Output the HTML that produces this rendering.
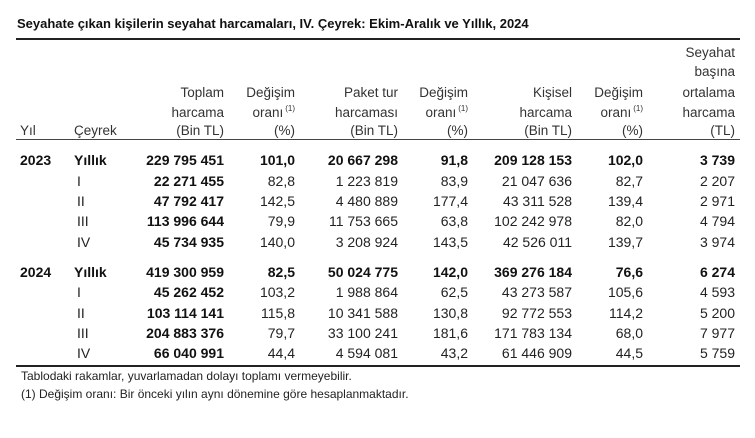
<!DOCTYPE html>
<html><head><meta charset="utf-8"><style>
body{margin:0;width:755px;height:438px;background:#fff;position:relative;overflow:hidden;font-family:"Liberation Sans",Arial,sans-serif;color:#222}
.t{position:absolute;white-space:nowrap;line-height:20px;font-size:14px}
.r{text-align:right}
.b{font-weight:bold;color:#111}
.h{font-size:13.5px;color:#333}
.rule{position:absolute;left:16px;width:724px;background:#222}
sup{font-size:8px;vertical-align:baseline;position:relative;top:-6px;margin-left:2px}
</style></head><body>
<div class="t b" style="left:17px;top:14px;font-size:13px">Seyahate çıkan kişilerin seyahat harcamaları, IV. Çeyrek: Ekim-Aralık ve Yıllık, 2024</div>
<div class="rule" style="top:38px;height:2px"></div>
<div class="rule" style="top:139px;height:1px;background:#444"></div>
<div class="rule" style="top:365px;height:2px"></div>
<div id="c"></div>
<div class="t" style="left:21px;top:366px;font-size:12px">Tablodaki rakamlar, yuvarlamadan dolayı toplamı vermeyebilir.</div>
<div class="t" style="left:21px;top:384px;font-size:12px">(1) Değişim oranı: Bir önceki yılın aynı dönemine göre hesaplanmaktadır.</div>
<script>
var c=document.getElementById('c'),h='';
function T(x,y,s,cls,right){h+='<div class="t '+(cls||'')+(right?' r':'')+'" style="'+(right?'right:'+(755-x)+'px':'left:'+x+'px')+';top:'+(y-10)+'px">'+s+'</div>';}
var R=[224,295,398,468,572,643,735];
var hy=[53,72,93,113,131];
T(20,131,'Yıl','h');T(74,131,'Çeyrek','h');
var H=[['Toplam','harcama','(Bin TL)'],['Değişim','oranı<sup>(1)</sup>','(%)'],['Paket tur','harcaması','(Bin TL)'],['Değişim','oranı<sup>(1)</sup>','(%)'],['Kişisel','harcama','(Bin TL)'],['Değişim','oranı<sup>(1)</sup>','(%)']];
H.forEach(function(a,i){a.forEach(function(s,j){T(R[i],hy[j+2],s,'h',1)})});
['Seyahat','başına','ortalama','harcama','(TL)'].forEach(function(s,j){T(R[6],hy[j],s,'h',1)});
var rows=[
['2023','Yıllık','229 795 451','101,0','20 667 298','91,8','209 128 153','102,0','3 739'],
['','I','22 271 455','82,8','1 223 819','83,9','21 047 636','82,7','2 207'],
['','II','47 792 417','142,5','4 480 889','177,4','43 311 528','139,4','2 971'],
['','III','113 996 644','79,9','11 753 665','63,8','102 242 978','82,0','4 794'],
['','IV','45 734 935','140,0','3 208 924','143,5','42 526 011','139,7','3 974'],
['2024','Yıllık','419 300 959','82,5','50 024 775','142,0','369 276 184','76,6','6 274'],
['','I','45 262 452','103,2','1 988 864','62,5','43 273 587','105,6','4 593'],
['','II','103 114 141','115,8','10 341 588','130,8','92 772 553','114,2','5 200'],
['','III','204 883 376','79,7','33 100 241','181,6','171 783 134','68,0','7 977'],
['','IV','66 040 991','44,4','4 594 081','43,2','61 446 909','44,5','5 759']];
var ys=[160,181,201,221,242,272,292,313,333,353];
rows.forEach(function(r,i){var y=ys[i],bold=(i%5==0);
 if(r[0])T(20,y,r[0],'b');
 T(bold?74:77,y,r[1],bold?'b':'');
 for(var k=2;k<9;k++)T(R[k-2],y,r[k],(bold||k==2)?'b':'',1);
});
c.innerHTML=h;
</script>
</body></html>
